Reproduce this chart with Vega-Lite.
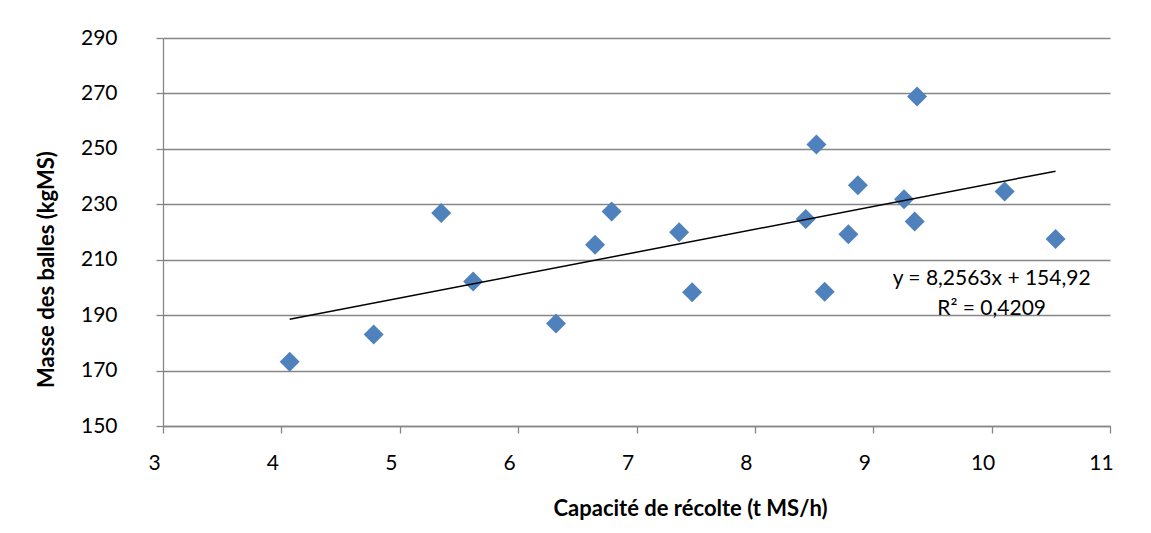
{
  "$schema": "https://vega.github.io/schema/vega-lite/v6.json",
  "width": 947,
  "height": 388,
  "autosize": {"type": "none"},
  "padding": {"left": 163, "top": 38, "right": 41, "bottom": 107},
  "background": "white",
  "config": {
    "view": {"stroke": null},
    "font": "Lato",
    "axis": {
      "labelFont": "Lato",
      "labelFontSize": 21,
      "labelColor": "#000000",
      "titleFont": "Lato",
      "titleFontSize": 22,
      "titleFontWeight": "bold",
      "titleColor": "#000000",
      "domainColor": "#868686",
      "domainWidth": 1.3,
      "tickColor": "#868686",
      "tickWidth": 1.3,
      "tickSize": 7,
      "gridColor": "#868686",
      "gridWidth": 1.3
    }
  },
  "datasets": {
    "balles": [
      {"capacite": 4.07, "masse": 173.2},
      {"capacite": 4.78, "masse": 183.0},
      {"capacite": 5.35, "masse": 226.9},
      {"capacite": 5.62, "masse": 202.1},
      {"capacite": 6.32, "masse": 187.0},
      {"capacite": 6.65, "masse": 215.4},
      {"capacite": 6.79, "masse": 227.4},
      {"capacite": 7.36, "masse": 219.9},
      {"capacite": 7.47, "masse": 198.3},
      {"capacite": 8.43, "masse": 224.7},
      {"capacite": 8.52, "masse": 251.6},
      {"capacite": 8.59, "masse": 198.4},
      {"capacite": 8.79, "masse": 219.2},
      {"capacite": 8.87, "masse": 236.9},
      {"capacite": 9.26, "masse": 231.8},
      {"capacite": 9.35, "masse": 223.8},
      {"capacite": 9.37, "masse": 268.9},
      {"capacite": 10.11, "masse": 234.6},
      {"capacite": 10.54, "masse": 217.5}
    ],
    "tendance": [
      {"capacite": 4.07, "masse": 188.52},
      {"capacite": 10.54, "masse": 241.94}
    ],
    "equation": [
      {"capacite": 10.0, "masse": 203.1, "texte": "y = 8,2563x + 154,92"},
      {"capacite": 10.0, "masse": 192.3, "texte": "R² = 0,4209"}
    ]
  },
  "layer": [
    {
      "data": {"name": "balles"},
      "mark": {"type": "point", "shape": "diamond", "filled": true, "size": 400, "color": "#4F81BD", "opacity": 1},
      "encoding": {
        "x": {
          "field": "capacite",
          "type": "quantitative",
          "scale": {"domain": [3, 11], "nice": false, "zero": false},
          "axis": {
            "title": "Capacité de récolte (t MS/h)",
            "values": [3, 4, 5, 6, 7, 8, 9, 10, 11],
            "format": "d",
            "grid": false,
            "labelPadding": 19,
            "labelOffset": -9,
            "labelFlush": false,
            "titleX": 527,
            "titleY": 82,
            "titleBaseline": "middle"
          }
        },
        "y": {
          "field": "masse",
          "type": "quantitative",
          "scale": {"domain": [150, 290], "nice": false, "zero": false},
          "axis": {
            "title": "Masse des balles (kgMS)",
            "values": [150, 170, 190, 210, 230, 250, 270, 290],
            "format": "d",
            "grid": true,
            "labelPadding": 39,
            "labelFlush": false,
            "titleX": -117,
            "titleY": 231,
            "titleBaseline": "middle",
            "titleAlign": "center",
            "titleAngle": -90
          }
        }
      }
    },
    {
      "data": {"name": "tendance"},
      "mark": {"type": "line", "color": "#000000", "strokeWidth": 1.5},
      "encoding": {
        "x": {"field": "capacite", "type": "quantitative"},
        "y": {"field": "masse", "type": "quantitative"}
      }
    },
    {
      "data": {"name": "equation"},
      "mark": {"type": "text", "font": "Lato", "fontSize": 21, "color": "#000000", "align": "center", "baseline": "middle"},
      "encoding": {
        "x": {"field": "capacite", "type": "quantitative"},
        "y": {"field": "masse", "type": "quantitative"},
        "text": {"field": "texte"}
      }
    }
  ]
}
